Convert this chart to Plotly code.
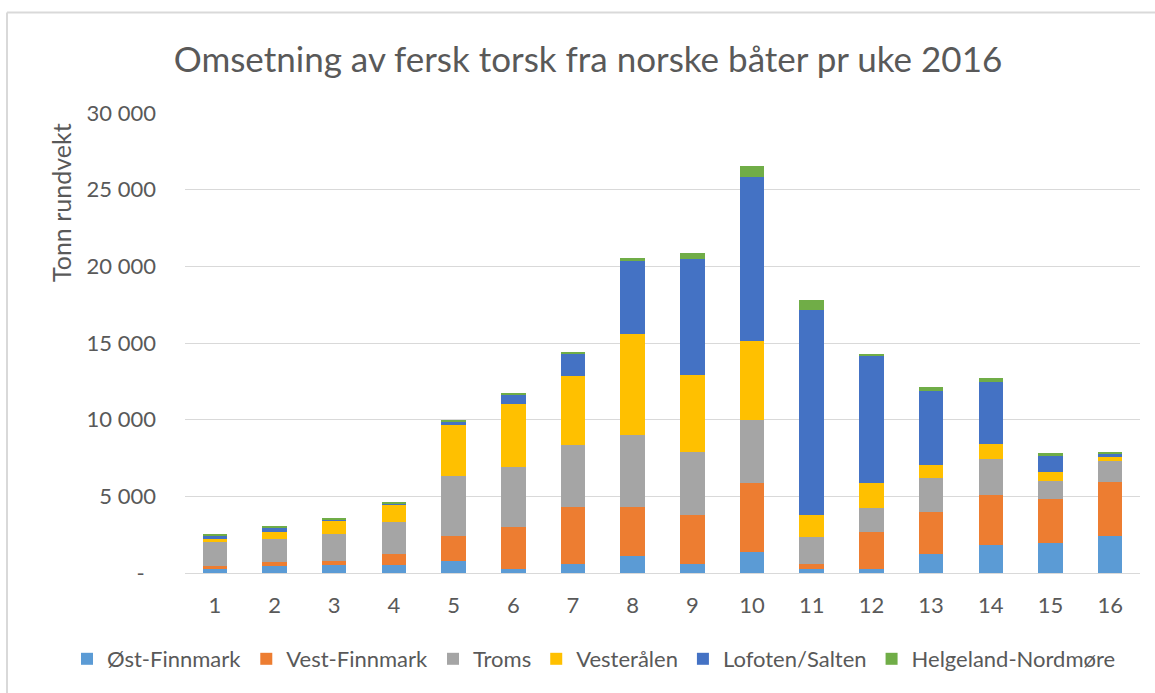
import plotly.graph_objects as go

weeks = [str(i) for i in range(1, 17)]
series_names = ["Øst-Finnmark", "Vest-Finnmark", "Troms", "Vesterålen", "Lofoten/Salten", "Helgeland-Nordmøre"]
ost_finnmark = [240, 460, 520, 520, 760, 240, 610, 1130, 610, 1370, 240, 240, 1220, 1810, 1980, 2420]
vest_finnmark = [220, 240, 240, 690, 1650, 2770, 3680, 3160, 3160, 4470, 370, 2440, 2750, 3250, 2830, 3510]
troms = [1590, 1520, 1800, 2130, 3910, 3920, 4030, 4710, 4120, 4160, 1720, 1530, 2200, 2400, 1180, 1350]
vesteralen = [170, 430, 850, 1110, 3320, 4120, 4510, 6580, 5030, 5160, 1440, 1630, 850, 940, 610, 260]
lofoten_salten = [220, 300, 110, 90, 260, 610, 1480, 4790, 7540, 10650, 13360, 8300, 4820, 4030, 1050, 260]
helgeland_nordmore = [65, 65, 90, 90, 90, 65, 90, 170, 410, 740, 680, 150, 260, 260, 150, 90]
colors = ["#5B9BD5", "#ED7D31", "#A5A5A5", "#FFC000", "#4472C4", "#70AD47"]
y_tickvals = [0, 5000, 10000, 15000, 20000, 25000, 30000]
y_ticktext = ["-&nbsp;&nbsp;", "5 000", "10 000", "15 000", "20 000", "25 000", "30 000"]

series = [ost_finnmark, vest_finnmark, troms, vesteralen, lofoten_salten, helgeland_nordmore]

FONT = "Lato"
GRAY = "#595959"

fig = go.Figure()
for name, vals, col in zip(series_names, series, colors):
    fig.add_trace(go.Bar(x=weeks, y=vals, name=name, marker=dict(color=col, line=dict(width=0))))

W, H = 1155, 693
L, R, T, B = 185, 15, 113, 120
pw, ph = W - L - R, H - T - B

def px_x(x):
    return (x - L) / pw

def px_y(y):
    return (H - B - y) / ph

frame = dict(color="#D9D9D9", width=2)

fig.update_layout(
    width=W, height=H,
    margin=dict(l=L, r=R, t=T, b=B, autoexpand=False),
    barmode="stack", bargap=0.59,
    plot_bgcolor="white", paper_bgcolor="white",
    font=dict(family=FONT, color=GRAY, size=22),
    title=dict(text="Omsetning av fersk torsk fra norske båter pr uke 2016",
               font=dict(family=FONT, size=35, color=GRAY),
               xref="paper", x=px_x(588), xanchor="center",
               yref="container", y=1 - 60 / H, yanchor="middle"),
    legend=dict(orientation="h", xref="paper", x=px_x(67), xanchor="left",
                yref="paper", y=px_y(659), yanchor="middle",
                font=dict(family=FONT, size=22, color=GRAY), traceorder="normal",
                itemwidth=30, borderwidth=0),
    xaxis=dict(showgrid=False, showline=False, ticks="", tickfont=dict(size=22, color=GRAY),
               ticklabelstandoff=17),
    yaxis=dict(range=[0, 30000], tickvals=y_tickvals, ticktext=y_ticktext,
               showgrid=True, gridcolor="#D9D9D9", gridwidth=1,
               zeroline=True, zerolinecolor="#D9D9D9", zerolinewidth=1,
               showline=False, ticks="", tickfont=dict(size=22, color=GRAY),
               ticklabelstandoff=28),
    annotations=[dict(text="Tonn rundvekt", textangle=-90, xref="paper", yref="paper",
                      x=px_x(61), y=px_y(203), xanchor="center", yanchor="middle",
                      showarrow=False, font=dict(family=FONT, size=25, color=GRAY))],
    shapes=[
        dict(type="line", xref="paper", yref="paper",
             x0=px_x(7), x1=px_x(1160), y0=px_y(12.5), y1=px_y(12.5), line=frame, layer="below"),
        dict(type="line", xref="paper", yref="paper",
             x0=px_x(7), x1=px_x(7), y0=px_y(12.5), y1=px_y(700), line=frame, layer="below"),
    ],
)

fig.write_html("out.html", config={"displayModeBar": False},
               post_script="document.body.style.margin='0';document.body.style.overflow='hidden';"
                           "document.documentElement.style.overflow='hidden';")
